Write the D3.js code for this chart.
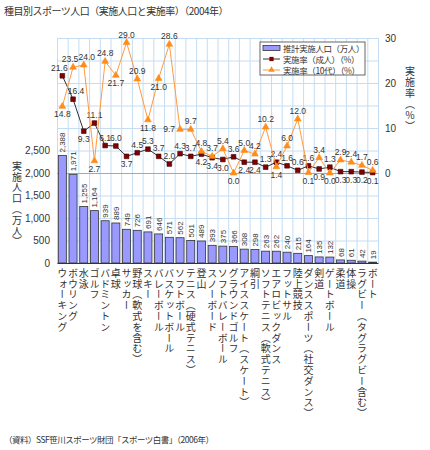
<!DOCTYPE html>
<html>
<head>
<meta charset="utf-8">
<script src="https://cdn.jsdelivr.net/npm/d3@7"></script>
<style>
  body { margin: 0; background: #fff; }
  svg text { font-family: "Noto Sans CJK JP", "Noto Sans", sans-serif; fill: #333; }
  .num { font-family: Arial, "Liberation Sans", sans-serif; }
  .vert { writing-mode: vertical-rl; }
</style>
</head>
<body>
<svg id="chart" width="430" height="450"></svg>
<script>
// 種目 (x categories)
const categories = [
  "ウォーキング", "ボウリング", "水泳", "ゴルフ", "バドミントン", "卓球", "サッカー",
  "野球（軟式を含む）", "スキー", "バレーボール", "バスケットボール", "ソフトボール",
  "テニス（硬式テニス）", "登山", "スノーボード", "ソフトバレーボール", "グラウンドゴルフ",
  "アイススケート（スケート）", "綱引", "ソフトテニス（軟式テニス）", "エアロビックダンス",
  "フットサル", "陸上競技", "ダンススポーツ（社交ダンス）", "剣道", "ゲートボール",
  "柔道", "体操", "ラグビー（タグラグビー含む）", "ボート"
];
// 推計実施人口（万人）
const population = [2388, 1971, 1255, 1164, 939, 889, 749, 726, 691, 646, 571, 562, 501, 489,
  393, 375, 366, 308, 298, 263, 262, 240, 215, 164, 135, 132, 68, 61, 42, 19];
// 実施率（成人）（%）
const adultRate = [21.6, 16.4, 9.3, 11.1, 6.1, 6.0, 3.7, 4.5, 5.3, 3.7, 2.0, 4.3, 3.7, 4.2,
  3.4, 3.0, 3.6, 2.4, 2.4, 1.3, 2.4, 1.6, 0.6, 1.6, 0.9, 1.3, 0.3, 0.3, 0.2, 0.1];
// 実施率（10代）（%）
const teenRate = [14.8, 23.5, 24.0, 2.7, 24.8, 21.7, 29.0, 20.9, 11.8, 21.0, 28.6, 9.7, 9.7, 4.8,
  3.7, 5.4, 0.0, 5.0, 4.2, 10.2, 1.4, 6.0, 12.0, 0.1, 3.4, 0.0, 2.9, 2.4, 1.7, 0.6];
const leftTicks = [0, 500, 1000, 1500, 2000, 2500];
const rightTicks = [0, 10, 20, 30];
// where each line label sits: a = above, L/R = above nudged left/right, b = below, l = left
const adultSide = "LRbaaabaaaaaabbbabbaaaaababbbb".split("");
const teenSide = "bLRbabaabbalaaaabaaabaababaaaa".split("");

const svg = d3.select("#chart");
const margin = { top: 38, right: 52, bottom: 187, left: 57 };
const W = 430, H = 450;
const x0 = margin.left, x1 = W - margin.right;
const y0 = H - margin.bottom, y1 = margin.top;

const x = d3.scaleBand().domain(categories).range([x0, x1])
  .paddingInner(0.25).paddingOuter(0.125);
const yL = d3.scaleLinear().domain([0, 5000]).range([y0, y1]);
const yR = d3.scaleLinear().domain([-20, 30]).range([y0, y1]);
const cx = (d, i) => x(categories[i]) + x.bandwidth() / 2;

// grid
const grid = svg.append("g");
grid.selectAll(".hg").data(d3.range(0, 5001, 500)).enter().append("line")
  .attr("x1", x0).attr("x2", x1)
  .attr("y1", d => yL(d) + 0.5).attr("y2", d => yL(d) + 0.5)
  .style("stroke", "#c4ddf2").style("stroke-width", 1);
grid.selectAll(".vg").data(d3.range(categories.length + 1)).enter().append("line")
  .attr("x1", i => x0 + i * x.step() + 0.5).attr("x2", i => x0 + i * x.step() + 0.5)
  .attr("y1", y1).attr("y2", y0)
  .style("stroke", "#c4ddf2").style("stroke-width", 1);
grid.append("line")
  .attr("x1", x0).attr("x2", x1)
  .attr("y1", yR(0) + 0.5).attr("y2", yR(0) + 0.5)
  .style("stroke", "#a8a8a8").style("stroke-width", 1);

// bars
svg.selectAll(".bar").data(population).enter().append("rect")
  .attr("x", (d, i) => x(categories[i]))
  .attr("y", d => yL(d))
  .attr("width", x.bandwidth())
  .attr("height", d => y0 - yL(d))
  .style("fill", "#9999ff").style("stroke", "#333").style("stroke-width", 0.8);

svg.selectAll(".barlab").data(population).enter().append("text")
  .attr("class", "num")
  .attr("transform", (d, i) => `translate(${cx(d, i) + 3},${yL(d) - 3}) rotate(-90)`)
  .style("font-size", "8px")
  .text(d => d3.format(",")(d));

// x axis
const xAxis = svg.append("g")
  .attr("transform", `translate(0,${y0})`)
  .call(d3.axisBottom(x).tickSize(0));
xAxis.select(".domain").style("stroke", "#333");
xAxis.selectAll("text")
  .attr("class", "vert")
  .attr("y", 5).attr("dy", 0)
  .style("text-anchor", "start")
  .style("font-size", "10px")
  .style("letter-spacing", "0.8px")
  .style("font-family", "'Noto Sans CJK JP', sans-serif")
  .style("fill", "#333");

// left axis
const yAxisL = svg.append("g")
  .attr("transform", `translate(${x0},0)`)
  .call(d3.axisLeft(yL).tickValues(leftTicks).tickSize(0).tickPadding(7).tickFormat(d3.format(",")));
yAxisL.select(".domain").remove();
yAxisL.selectAll("text").attr("class", "num").style("font-size", "10px").style("fill", "#333");

// right axis
const yAxisR = svg.append("g")
  .attr("transform", `translate(${x1},0)`)
  .call(d3.axisRight(yR).tickValues(rightTicks).tickSize(0).tickPadding(7));
yAxisR.select(".domain").remove();
yAxisR.selectAll("text").attr("class", "num").style("font-size", "10px").style("fill", "#333");

// lines
function drawSeries(values, sides, lineColor, markerFill, markerStroke, shape) {
  const line = d3.line().x((d, i) => cx(d, i)).y(d => yR(d));
  svg.append("path").datum(values)
    .attr("d", line)
    .style("fill", "none").style("stroke", lineColor).style("stroke-width", 1);
  const sym = d3.symbol().type(shape).size(shape === d3.symbolSquare ? 22 : 20);
  svg.selectAll(null).data(values).enter().append("path")
    .attr("d", sym)
    .attr("transform", (d, i) => `translate(${cx(d, i)},${yR(d)})`)
    .style("fill", markerFill).style("stroke", markerStroke).style("stroke-width", 0.6);
  const dx = { a: 0, L: -3, R: 3, b: 0, l: -5 };
  svg.selectAll(null).data(values).enter().append("text")
    .attr("class", "num")
    .attr("x", (d, i) => cx(d, i) + dx[sides[i]])
    .attr("y", (d, i) => sides[i] === "b" ? yR(d) + 11 : sides[i] === "l" ? yR(d) + 3 : yR(d) - 5)
    .style("text-anchor", (d, i) => sides[i] === "l" ? "end" : "middle")
    .style("font-size", "8.5px")
    .text(d => d.toFixed(1));
}
drawSeries(adultRate, adultSide, "#333", "#800000", "#400000", d3.symbolSquare);
drawSeries(teenRate, teenSide, "#ff9a40", "#ff8c1a", "#ff8c1a", d3.symbolTriangle);

// axis titles
svg.append("text").attr("class", "vert")
  .attr("x", 17).attr("y", 161)
  .style("font-size", "10px").style("letter-spacing", "0.8px")
  .text("実施人口（万人）");
svg.append("text").attr("class", "vert")
  .attr("x", 410).attr("y", 66)
  .style("font-size", "10px").style("letter-spacing", "1px")
  .text("実施率（％）");

// legend
const lg = svg.append("g").attr("transform", "translate(260,42)");
lg.append("rect").attr("width", 105).attr("height", 33)
  .style("fill", "#fff").style("stroke", "#666").style("stroke-width", 1);
const items = ["推計実施人口（万人）", "実施率（成人）（%）", "実施率（10代）（%）"];
items.forEach((t, i) => {
  const yy = 6 + i * 11;
  if (i === 0) {
    lg.append("rect").attr("x", 3).attr("y", yy - 2.5).attr("width", 17).attr("height", 5)
      .style("fill", "#9999ff").style("stroke", "#333").style("stroke-width", 0.8);
  } else {
    lg.append("line").attr("x1", 3).attr("x2", 20).attr("y1", yy).attr("y2", yy)
      .style("stroke", i === 1 ? "#333" : "#ff9a40");
    lg.append("path")
      .attr("d", d3.symbol().type(i === 1 ? d3.symbolSquare : d3.symbolTriangle).size(18))
      .attr("transform", `translate(11.5,${yy})`)
      .style("fill", i === 1 ? "#800000" : "#ff8c1a");
  }
  lg.append("text").attr("x", 23).attr("y", yy + 3.5)
    .style("font-size", "8.5px").style("letter-spacing", "-0.4px").text(t);
});

// title and source
svg.append("text").attr("x", 4).attr("y", 15)
  .style("font-size", "10px").style("letter-spacing", "-0.5px")
  .text("種目別スポーツ人口（実施人口と実施率）（2004年）");
svg.append("text").attr("x", 4).attr("y", 443)
  .style("font-size", "8.5px").style("letter-spacing", "-0.5px")
  .text("（資料）SSF笹川スポーツ財団「スポーツ白書」（2006年）");
</script>
</body>
</html>
